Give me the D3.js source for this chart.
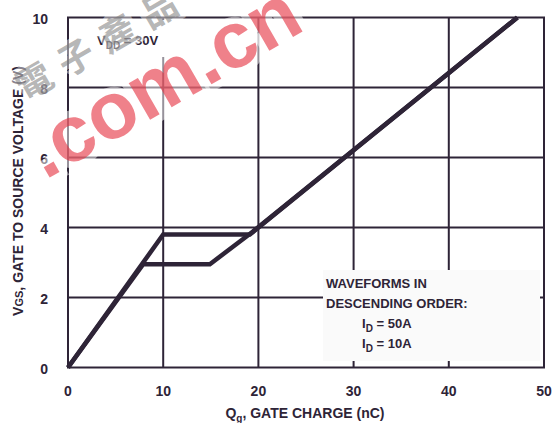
<!DOCTYPE html>
<html>
<head>
<meta charset="utf-8">
<script src="https://cdn.jsdelivr.net/npm/d3@7"></script>
<style>
	body { margin: 0; background: #fff; }
	svg text { font-family: Arial, 'Liberation Sans', sans-serif; font-weight: bold; fill: #2e2437; }
</style>
</head>
<body>
<div id="chart"></div>
<script>
// data
var x_ticks = [0, 10, 20, 30, 40, 50];
var y_ticks = [0, 2, 4, 6, 8, 10];
var id50_q = [0, 10, 19.1, 47.2];
var id50_v = [0, 3.8, 3.8, 10];
var id10_q = [0, 7.9, 14.9, 19.4, 47.2];
var id10_v = [0, 2.95, 2.95, 3.88, 10];
var wm_chars = ['電', '子', '產', '品'];

var ink = '#2e2437';

function draw_chart() {
	var width = 555;
	var height = 423;
	var plot = {left: 68, right: 544, top: 17.5, bottom: 367.5};

	var svg = d3.select('#chart')
		.append('svg')
		.attr('width', width)
		.attr('height', height);

	var x = d3.scaleLinear()
		.domain([0, 50])
		.range([plot.left, plot.right]);
	var y = d3.scaleLinear()
		.domain([0, 10])
		.range([plot.bottom, plot.top]);

	// grid
	var grid = svg.append('g')
		.attr('stroke', ink)
		.attr('stroke-width', 2);
	grid.selectAll('.vgrid')
		.data(x_ticks.slice(1, -1))
		.enter()
		.append('line')
			.attr('x1', function(d) { return x(d); })
			.attr('x2', function(d) { return x(d); })
			.attr('y1', plot.top)
			.attr('y2', plot.bottom);
	grid.selectAll('.hgrid')
		.data(y_ticks.slice(1, -1))
		.enter()
		.append('line')
			.attr('x1', plot.left)
			.attr('x2', plot.right)
			.attr('y1', function(d) { return y(d); })
			.attr('y2', function(d) { return y(d); });
	grid.append('rect')
		.attr('x', plot.left)
		.attr('y', plot.top)
		.attr('width', plot.right - plot.left)
		.attr('height', plot.bottom - plot.top)
		.attr('fill', 'none');

	// white boxes behind notes
	svg.append('rect')
		.attr('x', 86).attr('y', 20)
		.attr('width', 92).attr('height', 37)
		.attr('fill', '#fff');
	svg.append('rect')
		.attr('x', 323).attr('y', 270)
		.attr('width', 217).attr('height', 91)
		.attr('fill', '#fafafa');

	// curves
	var line = d3.line()
		.x(function(d) { return x(d[0]); })
		.y(function(d) { return y(d[1]); });
	var series = [d3.zip(id10_q, id10_v), d3.zip(id50_q, id50_v)];
	svg.append('g')
		.selectAll('path')
		.data(series)
		.enter()
		.append('path')
			.attr('d', line)
			.attr('fill', 'none')
			.attr('stroke', ink)
			.attr('stroke-width', 4.5)
			.attr('stroke-linejoin', 'miter');

	// tick labels
	svg.selectAll('.xlab')
		.data(x_ticks)
		.enter()
		.append('text')
			.attr('x', function(d) { return x(d); })
			.attr('y', 396)
			.attr('text-anchor', 'middle')
			.style('font-size', '14px')
			.text(function(d) { return d; });
	svg.selectAll('.ylab')
		.data(y_ticks)
		.enter()
		.append('text')
			.attr('x', 48)
			.attr('y', function(d) { return y(d) + 6; })
			.attr('text-anchor', 'end')
			.style('font-size', '14px')
			.text(function(d) { return d; });

	// axis titles
	var xt = svg.append('text')
		.attr('x', 305)
		.attr('y', 418)
		.attr('text-anchor', 'middle')
		.style('font-size', '14px');
	xt.append('tspan').text('Q');
	xt.append('tspan').attr('dy', 4).style('font-size', '10px').text('g');
	xt.append('tspan').attr('dy', -4).text(', GATE CHARGE (nC)');

	var yt = svg.append('text')
		.attr('transform', 'translate(23,191) rotate(-90)')
		.attr('text-anchor', 'middle')
		.style('font-size', '14px');
	yt.append('tspan').text('V');
	yt.append('tspan').style('font-size', '11px').text('GS');
	yt.append('tspan').text(', GATE TO SOURCE VOLTAGE (V)');

	// notes
	var vdd = svg.append('text')
		.attr('x', 97)
		.attr('y', 45)
		.style('font-size', '13px');
	vdd.append('tspan').text('V');
	vdd.append('tspan').attr('dy', 4).style('font-size', '10px').text('DD');
	vdd.append('tspan').attr('dy', -4).text(' = 30V');

	svg.append('text').attr('x', 326).attr('y', 288).style('font-size', '13px').text('WAVEFORMS IN');
	svg.append('text').attr('x', 326).attr('y', 308).style('font-size', '13px').text('DESCENDING ORDER:');
	['50A', '10A'].forEach(function(d, i) {
		var t = svg.append('text')
			.attr('x', 362)
			.attr('y', 328 + 20 * i)
			.style('font-size', '13px');
		t.append('tspan').text('I');
		t.append('tspan').attr('dy', 4).style('font-size', '10px').text('D');
		t.append('tspan').attr('dy', -4).text(' = ' + d);
	});

	// watermark
	var wm = svg.append('g')
		.attr('transform', 'translate(165,118) rotate(-30)');
	wm.selectAll('.wmchar')
		.data(wm_chars)
		.enter()
		.append('text')
			.attr('x', function(d, i) { return -95 + 48 * i; })
			.attr('y', -84)
			.attr('text-anchor', 'middle')
			.style('font-family', "'Noto Sans CJK TC', 'Noto Sans CJK SC', sans-serif")
			.style('font-size', '36px')
			.style('fill', 'rgba(120,120,120,0.55)')
			.style('stroke', 'rgba(255,255,255,0.45)')
			.style('stroke-width', '8px')
			.style('paint-order', 'stroke')
			.text(function(d) { return d; });
	wm.append('text')
		.attr('x', -135)
		.attr('y', -6)
		.style('font-size', '80px')
		.style('fill', 'rgba(228,45,60,0.6)')
		.style('stroke', 'rgba(255,255,255,0.5)')
		.style('stroke-width', '14px')
		.style('paint-order', 'stroke')
		.text('.com.cn');
}

draw_chart();
</script>
</body>
</html>
